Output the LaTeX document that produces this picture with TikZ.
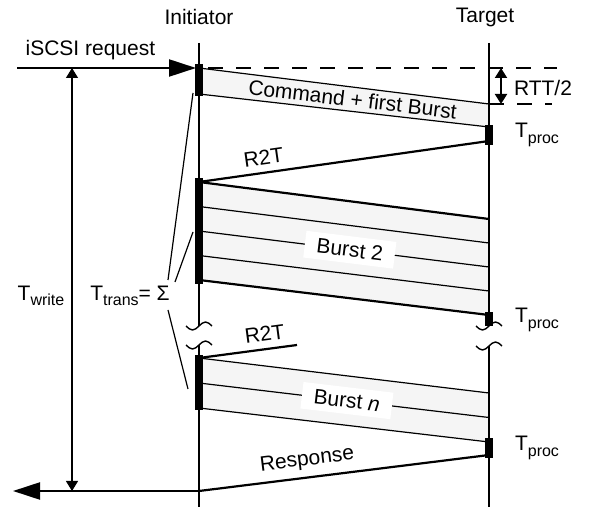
\documentclass[tikz,border=0pt]{standalone}
\usepackage{fontspec}
\setmainfont{Liberation Sans}
\usetikzlibrary{arrows.meta}
\definecolor{bandgray}{gray}{0.96}

\newcommand{\lowsub}[1]{\raisebox{-2.6pt}{\fontsize{8}{9}\selectfont #1}}
\newcommand{\brkmark}[2]{\draw[breakln] (#1-13,#2) sin (#1-6.5,#2+4) cos (#1,#2) sin (#1+6.5,#2-4) cos (#1+13,#2);}

\begin{document}
\begin{tikzpicture}[
  x=0.5pt,y=-0.5pt,
  font=\fontsize{10.5}{12.6}\selectfont,
  life/.style={line width=1pt},
  band/.style={fill=bandgray,draw=black,line width=0.6pt},
  heavy/.style={black,line width=1.1pt},
  light/.style={black,line width=0.6pt},
  breakln/.style={line width=0.7pt},
  dashln/.style={line width=0.6pt,dash pattern=on 7.5pt off 6.5pt},
  bigtip/.style={-{Triangle[length=13.5pt,width=8.5pt]}},
  dimarrow/.style={{Triangle[length=5pt,width=6pt]}-{Triangle[length=5pt,width=6pt]}},
  lbl/.style={fill=white,inner xsep=6pt,inner ysep=3pt}]

  \useasboundingbox (0,0) rectangle (589,507);

  \node (init) at (199,17) {Initiator};
  \node (targ) at (485,17) {Target};

  % lifeline points
  \coordinate (iTop) at (199,43);   \coordinate (tTop) at (489,43);
  \coordinate (iCutA) at (199,326); \coordinate (tCutA) at (489,326);
  \coordinate (iCutB) at (199,345); \coordinate (tCutB) at (489,346);
  \coordinate (iBot) at (199,507);  \coordinate (tBot) at (489,507);

  % command + first burst
  \coordinate (cmdA) at (199,68); \coordinate (cmdB) at (489,104);
  \filldraw[band] (cmdA) -- (cmdB) -- (489,127) -- (199,94) -- cycle;
  \path (199,81) -- (489,115.5) node[pos=0.53,sloped] (cmd) {Command + first Burst};

  % burst 2
  \fill[bandgray] (199,182) -- (489,219) -- (489,315) -- (199,280) -- cycle;
  \foreach \k in {1,2,3}
    \draw[light] (199,182+24.5*\k) -- (489,219+24*\k);
  \draw[heavy] (199,280) -- (489,315);
  \path (199,231) -- (489,267) node[pos=0.52,sloped,lbl] (bst2) {Burst 2};

  % burst n
  \fill[bandgray] (199,358) -- (489,393) -- (489,442) -- (199,408) -- cycle;
  \foreach \k in {0,1,2}
    \draw[light] (199,358+25*\k) -- (489,393+24.5*\k);
  \path (199,383) -- (489,417.5) node[pos=0.51,sloped,lbl] (bstn) {Burst \textit{n}};

  % messages
  \coordinate (r2tA) at (199,182); \coordinate (r2tB) at (489,141);
  \coordinate (b2top) at (489,219);
  \draw[heavy] (r2tA) -- (b2top);
  \draw[heavy] (r2tA) -- (r2tB) node[pos=0.23,sloped,above] (r2t1) {R2T};
  \coordinate (r2nA) at (199,358); \coordinate (r2nB) at (297,345);
  \draw[heavy] (r2nA) -- (r2nB) node[pos=0.69,sloped,above] (r2t2) {R2T};
  \coordinate (rspA) at (199,491); \coordinate (rspB) at (489,455);
  \coordinate (rspEnd) at (13,491);
  \draw[heavy] (rspA) -- (rspB) node[pos=0.38,sloped,above] (rsp) {Response};
  \draw[heavy,bigtip] (rspA) -- (rspEnd);
  \coordinate (reqA) at (17,68); \coordinate (reqB) at (196,68);
  \draw[heavy,bigtip] (reqA) -- (reqB) node[pos=0.41,above] (req) {iSCSI request};

  % RTT/2
  \draw[dashln] (208,68) -- (557,68);
  \draw[dashln] (cmdB) -- (552,104);
  \coordinate (rttA) at (501,68); \coordinate (rttB) at (501,104);
  \draw[line width=1pt,dimarrow] (rttA) -- (rttB);
  \node (rtt) at (543,88) {RTT/2};

  % T_write
  \coordinate (wTop) at (72,68); \coordinate (wBot) at (72,491);
  \draw[line width=0.6pt,dimarrow] (wTop) -- (wBot);
  \node (twrite) at (41,296) {T\lowsub{write}};

  % T_trans
  \node (ttrans) at (130,296) {T\lowsub{trans}= Σ};
  \coordinate (sgA) at (168,280); \coordinate (sgB) at (175,282); \coordinate (sgC) at (168,310);
  \coordinate (barA) at (193,93); \coordinate (barB) at (193,232); \coordinate (barC) at (188,389);
  \draw[light] (sgA) -- (barA);
  \draw[light] (sgB) -- (barB);
  \draw[light] (sgC) -- (barC);

  % lifelines with breaks
  \draw[life] (iTop) -- (iCutA) (iCutB) -- (iBot);
  \draw[life] (tTop) -- (tCutA) (tCutB) -- (tBot);
  \foreach \y in {326,345} {\brkmark{199}{\y}}
  \foreach \y in {326,346} {\brkmark{489}{\y}}

  % activity bars
  \foreach \ya/\yb in {64/96,178/284,355/410}
    \fill (195,\ya) rectangle (203,\yb);
  \foreach \ya/\yb in {125/145,312/326,438/458}
    \fill (485,\ya) rectangle (493,\yb);

  \foreach \y [count=\n] in {135,320,448}
    \node (tproc\n) at (537,\y) {T\lowsub{proc}};
\end{tikzpicture}
\end{document}
